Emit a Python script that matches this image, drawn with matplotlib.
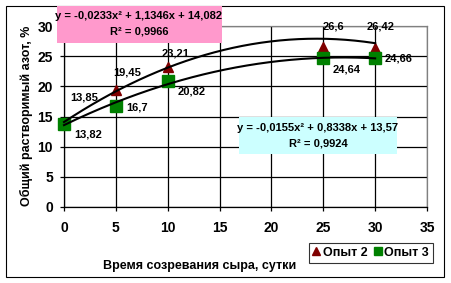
import numpy as np
import matplotlib
matplotlib.use('Agg')
import matplotlib.pyplot as plt
from matplotlib.patches import Rectangle

plt.rcParams['font.family'] = ['Liberation Sans', 'DejaVu Sans']
plt.rcParams['font.weight'] = 'bold'

# data
days = [0, 5, 10, 25, 30]
opyt2 = [13.85, 19.45, 23.21, 26.6, 26.42]
opyt3 = [13.82, 16.7, 20.82, 24.64, 24.66]
# trend line coefficients as printed on the chart (a*x^2 + b*x + c)
fit2 = [-0.0233, 1.1346, 14.082]
fit3 = [-0.0155, 0.8338, 13.57]
eq2 = ['y = -0,0233x² + 1,1346x + 14,082', 'R² = 0,9966']
eq3 = ['y = -0,0155x² + 0,8338x + 13,57', 'R² = 0,9924']
xticks = [0, 5, 10, 15, 20, 25, 30, 35]
yticks = [0, 5, 10, 15, 20, 25, 30]

# label offsets in pixels (x, y up)
off2 = [(20, 26), (11, 17), (8, 13), (10, 20), (5, 21)]
off3 = [(24, -11), (21, -1), (24, -10), (23, -11), (23, 0)]

W, H = 451, 283
fig = plt.figure(figsize=(W / 100, H / 100), dpi=100)

def fx(x):
    return x / W

def fy(y):
    return 1 - y / H

ax = fig.add_axes([fx(64), fy(207), fx(427) - fx(64), fy(26) - fy(207)])

xs = np.linspace(min(days), max(days), 200)

ax.plot(days, opyt2, linestyle='none', marker='^', ms=7.5, color='#800000', label='Опыт 2',
        zorder=3, clip_on=False)
ax.plot(days, opyt3, linestyle='none', marker='s', ms=8, color='#008000', label='Опыт 3',
        zorder=4, clip_on=False)
ax.plot(xs, np.polyval(fit2, xs), color='black', lw=1.5, zorder=5, clip_on=False)
ax.plot(xs, np.polyval(fit3, xs), color='black', lw=1.5, zorder=5, clip_on=False)

for x, y, o in zip(days, opyt2, off2):
    ax.annotate(str(y).replace('.', ','), (x, y), xytext=o, textcoords='offset pixels',
                ha='center', va='center', fontsize=8, fontweight='bold', zorder=6,
                annotation_clip=False)
for x, y, o in zip(days, opyt3, off3):
    ax.annotate(str(y).replace('.', ','), (x, y), xytext=o, textcoords='offset pixels',
                ha='center', va='center', fontsize=8, fontweight='bold', zorder=6,
                annotation_clip=False)

ax.set_xlim(0, 35)
ax.set_ylim(0, 30)
ax.set_xticks(xticks)
ax.set_yticks(yticks)
ax.grid(True, color='black', lw=0.9)
ax.set_axisbelow(True)
ax.tick_params(direction='out', length=3, width=0.9, labelsize=10, color='black')
ax.tick_params(axis='x', pad=7)
ax.tick_params(axis='y', pad=5)
for s in ['left', 'bottom']:
    ax.spines[s].set_color('black')
    ax.spines[s].set_linewidth(0.9)
for s in ['top', 'right']:
    ax.spines[s].set_color('#808080')
    ax.spines[s].set_linewidth(0.9)

fig.text(fx(200), fy(266), 'Время созревания сыра, сутки', ha='center', va='center',
         fontsize=9, fontweight='bold')
fig.text(fx(26), fy(116), 'Общий растворимый азот, %', ha='center', va='center',
         rotation=90, fontsize=9, fontweight='bold')

# equation boxes
fig.patches.append(Rectangle((fx(57), fy(43)), fx(222) - fx(57), fy(6) - fy(43),
                             transform=fig.transFigure, facecolor='#FF99CC', edgecolor='none', zorder=10))
fig.text(fx(139), fy(16), eq2[0], ha='center', va='center', fontsize=8, fontweight='bold', zorder=11)
fig.text(fx(139), fy(32), eq2[1], ha='center', va='center', fontsize=8, fontweight='bold', zorder=11)

fig.patches.append(Rectangle((fx(239), fy(154)), fx(397) - fx(239), fy(117) - fy(154),
                             transform=fig.transFigure, facecolor='#CCFFFF', edgecolor='none', zorder=10))
fig.text(fx(318), fy(128), eq3[0], ha='center', va='center', fontsize=8, fontweight='bold', zorder=11)
fig.text(fx(318), fy(144), eq3[1], ha='center', va='center', fontsize=8, fontweight='bold', zorder=11)

# outer chart border
fig.patches.append(Rectangle((fx(5.5), fy(277)), fx(444) - fx(5.5), fy(5.5) - fy(277),
                             transform=fig.transFigure, facecolor='none', edgecolor='black', lw=0.8))

leg = fig.legend(loc='upper right', bbox_to_anchor=(fx(433), fy(243)), ncol=2,
                 prop={'size': 9, 'weight': 'bold'}, frameon=True, fancybox=False,
                 edgecolor='black', handlelength=0.6, handletextpad=0.25, columnspacing=0.5,
                 borderpad=0.3, borderaxespad=0, markerscale=0.75)
leg.get_frame().set_linewidth(0.8)

fig.savefig('out.png', dpi=100)
